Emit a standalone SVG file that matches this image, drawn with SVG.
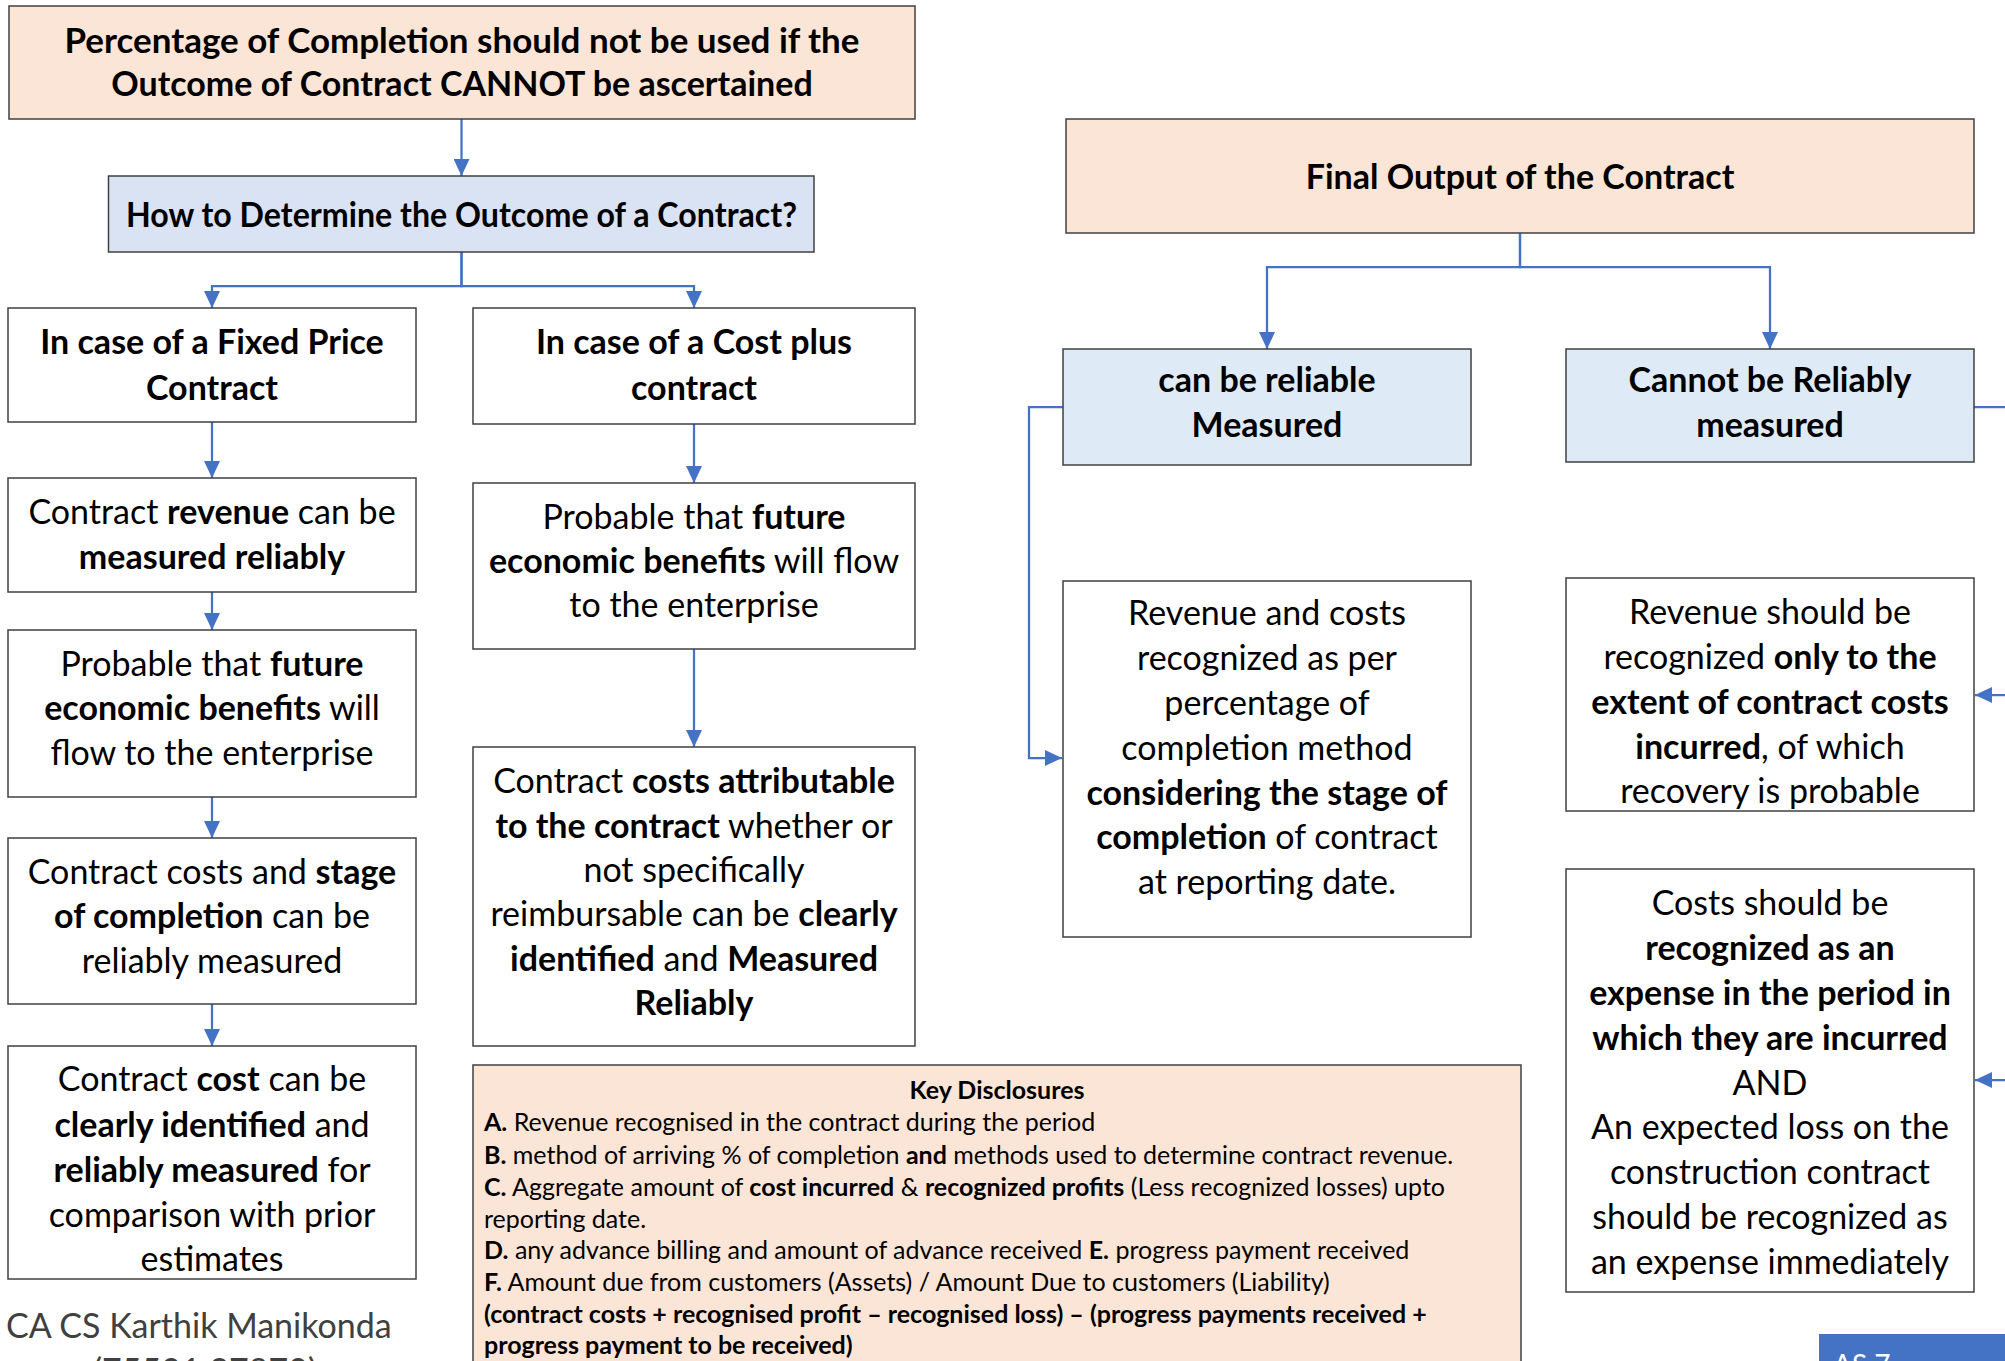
<svg xmlns="http://www.w3.org/2000/svg" width="2005" height="1361" viewBox="0 0 2005 1361">
<style>
.box{stroke:#404040;stroke-width:1.5}
.peach{fill:#FBE5D6}
.lav{fill:#DAE3F3}
.blue{fill:#DEEBF7}
.wh{fill:#FFFFFF}
text{font-family:Lato,"Open Sans","Liberation Sans",sans-serif;fill:#000}
.t{font-size:34px;text-anchor:middle}
.b{font-weight:bold}
.k{font-size:25px}
.conn{fill:none;stroke:#4472C4;stroke-width:2.25}
</style>
<defs>
<marker id="ah" markerUnits="userSpaceOnUse" markerWidth="18" markerHeight="16" refX="17" refY="8" orient="auto">
<path d="M0,0 L17,8 L0,16 z" fill="#4472C4"/>
</marker>
</defs>
<rect width="2005" height="1361" fill="#FFFFFF"/>

<g id="connectors">
<path class="conn" d="M461.5,119 V176" marker-end="url(#ah)"/>
<path class="conn" d="M461.5,252 V286 H212 V308" marker-end="url(#ah)"/>
<path class="conn" d="M461.5,252 V286 H694 V308" marker-end="url(#ah)"/>
<path class="conn" d="M212,422 V478" marker-end="url(#ah)"/>
<path class="conn" d="M212,592 V630" marker-end="url(#ah)"/>
<path class="conn" d="M212,797 V838" marker-end="url(#ah)"/>
<path class="conn" d="M212,1004 V1046" marker-end="url(#ah)"/>
<path class="conn" d="M694,424 V483" marker-end="url(#ah)"/>
<path class="conn" d="M694,649 V747" marker-end="url(#ah)"/>
<path class="conn" d="M1520,233 V267 H1267 V349" marker-end="url(#ah)"/>
<path class="conn" d="M1520,233 V267 H1770 V349" marker-end="url(#ah)"/>
<path class="conn" d="M1063,407 H1029 V758 H1062" marker-end="url(#ah)"/>
<path class="conn" d="M1974,407 H2025 V1080 H1975" marker-end="url(#ah)"/>
<path class="conn" d="M2025,695 H1975" marker-end="url(#ah)"/>
</g>

<g id="n-top">
<rect class="box peach" x="9" y="6" width="906" height="113"/>
<text class="t b" x="462" y="53" textLength="795" lengthAdjust="spacingAndGlyphs">Percentage of Completion should not be used if the</text>
<text class="t b" x="462" y="96">Outcome of Contract CANNOT be ascertained</text>
</g>

<g id="n-how">
<rect class="box lav" x="108.5" y="176" width="705.5" height="76"/>
<text class="t b" x="461.5" y="227" textLength="671" lengthAdjust="spacingAndGlyphs">How to Determine the Outcome of a Contract?</text>
</g>

<g id="n-fixed">
<rect class="box wh" x="8" y="308" width="408" height="114"/>
<text class="t b" x="212" y="354">In case of a Fixed Price</text>
<text class="t b" x="212" y="400">Contract</text>
</g>

<g id="n-costplus">
<rect class="box wh" x="473" y="308" width="442" height="116"/>
<text class="t b" x="694" y="354">In case of a Cost plus</text>
<text class="t b" x="694" y="400">contract</text>
</g>

<g id="n-revenue">
<rect class="box wh" x="8" y="478" width="408" height="114"/>
<text class="t" x="212" y="524">Contract <tspan class="b">revenue</tspan> can be</text>
<text class="t b" x="212" y="569">measured reliably</text>
</g>

<g id="n-probable-left">
<rect class="box wh" x="8" y="630" width="408" height="167"/>
<text class="t" x="212" y="676">Probable that <tspan class="b">future</tspan></text>
<text class="t" x="212" y="720"><tspan class="b">economic benefits</tspan> will</text>
<text class="t" x="212" y="765">flow to the enterprise</text>
</g>

<g id="n-stage">
<rect class="box wh" x="8" y="838" width="408" height="166"/>
<text class="t" x="212" y="884">Contract costs and <tspan class="b">stage</tspan></text>
<text class="t" x="212" y="928"><tspan class="b">of completion</tspan> can be</text>
<text class="t" x="212" y="973">reliably measured</text>
</g>

<g id="n-cost">
<rect class="box wh" x="8" y="1046" width="408" height="233"/>
<text class="t" x="212" y="1091">Contract <tspan class="b">cost</tspan> can be</text>
<text class="t" x="212" y="1137"><tspan class="b">clearly identified</tspan> and</text>
<text class="t" x="212" y="1182"><tspan class="b">reliably measured</tspan> for</text>
<text class="t" x="212" y="1227">comparison with prior</text>
<text class="t" x="212" y="1271">estimates</text>
</g>

<g id="n-probable-right">
<rect class="box wh" x="473" y="483" width="442" height="166"/>
<text class="t" x="694" y="529">Probable that <tspan class="b">future</tspan></text>
<text class="t" x="694" y="573"><tspan class="b">economic benefits</tspan> will flow</text>
<text class="t" x="694" y="617">to the enterprise</text>
</g>

<g id="n-attributable">
<rect class="box wh" x="473" y="747" width="442" height="299"/>
<text class="t" x="694" y="793">Contract <tspan class="b">costs attributable</tspan></text>
<text class="t" x="694" y="838"><tspan class="b">to the contract</tspan> whether or</text>
<text class="t" x="694" y="882">not specifically</text>
<text class="t" x="694" y="926">reimbursable can be <tspan class="b">clearly</tspan></text>
<text class="t" x="694" y="971"><tspan class="b">identified</tspan> and <tspan class="b">Measured</tspan></text>
<text class="t b" x="694" y="1015">Reliably</text>
</g>

<g id="n-disclosures">
<rect class="box peach" x="473" y="1065" width="1048" height="310"/>
<text class="k b" x="997" y="1099" text-anchor="middle">Key Disclosures</text>
<text class="k" x="484" y="1131"><tspan class="b">A.</tspan> Revenue recognised in the contract during the period</text>
<text class="k" x="484" y="1164"><tspan class="b">B.</tspan> method of arriving % of completion <tspan class="b">and</tspan> methods used to determine contract revenue.</text>
<text class="k" x="484" y="1196"><tspan class="b">C.</tspan> Aggregate amount of <tspan class="b">cost incurred</tspan> &amp; <tspan class="b">recognized profits</tspan> (Less recognized losses) upto</text>
<text class="k" x="484" y="1228">reporting date.</text>
<text class="k" x="484" y="1259"><tspan class="b">D.</tspan> any advance billing and amount of advance received <tspan class="b">E.</tspan> progress payment received</text>
<text class="k" x="484" y="1291"><tspan class="b">F.</tspan> Amount due from customers (Assets) / Amount Due to customers (Liability)</text>
<text class="k b" x="484" y="1323">(contract costs + recognised profit – recognised loss) – (progress payments received +</text>
<text class="k b" x="484" y="1354">progress payment to be received)</text>
</g>

<g id="n-final">
<rect class="box peach" x="1066" y="119" width="908" height="114"/>
<text class="t b" x="1520" y="189">Final Output of the Contract</text>
</g>

<g id="n-reliable">
<rect class="box blue" x="1063" y="349" width="408" height="116"/>
<text class="t b" x="1267" y="392">can be reliable</text>
<text class="t b" x="1267" y="437">Measured</text>
</g>

<g id="n-notreliable">
<rect class="box blue" x="1566" y="349" width="408" height="113"/>
<text class="t b" x="1770" y="392">Cannot be Reliably</text>
<text class="t b" x="1770" y="437">measured</text>
</g>

<g id="n-revcosts">
<rect class="box wh" x="1063" y="581" width="408" height="356"/>
<text class="t" x="1267" y="625">Revenue and costs</text>
<text class="t" x="1267" y="670">recognized as per</text>
<text class="t" x="1267" y="715">percentage of</text>
<text class="t" x="1267" y="760">completion method</text>
<text class="t b" x="1267" y="805">considering the stage of</text>
<text class="t" x="1267" y="849"><tspan class="b">completion</tspan> of contract</text>
<text class="t" x="1267" y="894">at reporting date.</text>
</g>

<g id="n-revshould">
<rect class="box wh" x="1566" y="578" width="408" height="233"/>
<text class="t" x="1770" y="624">Revenue should be</text>
<text class="t" x="1770" y="669">recognized <tspan class="b">only to the</tspan></text>
<text class="t b" x="1770" y="714">extent of contract costs</text>
<text class="t" x="1770" y="759"><tspan class="b">incurred</tspan>, of which</text>
<text class="t" x="1770" y="803">recovery is probable</text>
</g>

<g id="n-costshould">
<rect class="box wh" x="1566" y="869" width="408" height="423"/>
<text class="t" x="1770" y="915">Costs should be</text>
<text class="t b" x="1770" y="960">recognized as an</text>
<text class="t b" x="1770" y="1005">expense in the period in</text>
<text class="t b" x="1770" y="1050">which they are incurred</text>
<text class="t" x="1770" y="1095">AND</text>
<text class="t" x="1770" y="1139">An expected loss on the</text>
<text class="t" x="1770" y="1184">construction contract</text>
<text class="t" x="1770" y="1229">should be recognized as</text>
<text class="t" x="1770" y="1274">an expense immediately</text>
</g>

<g id="n-author">
<text x="6" y="1338" style="font-size:34px;fill:#404040">CA CS Karthik Manikonda</text>
<text x="205" y="1383" text-anchor="middle" style="font-size:34px;fill:#404040">(75501 37870)</text>
</g>

<g id="n-as7">
<rect x="1819" y="1334" width="200" height="40" fill="#4472C4"/>
<text x="1833" y="1375" style="font-size:28px;fill:#FFFFFF">AS 7</text>
</g>
</svg>
